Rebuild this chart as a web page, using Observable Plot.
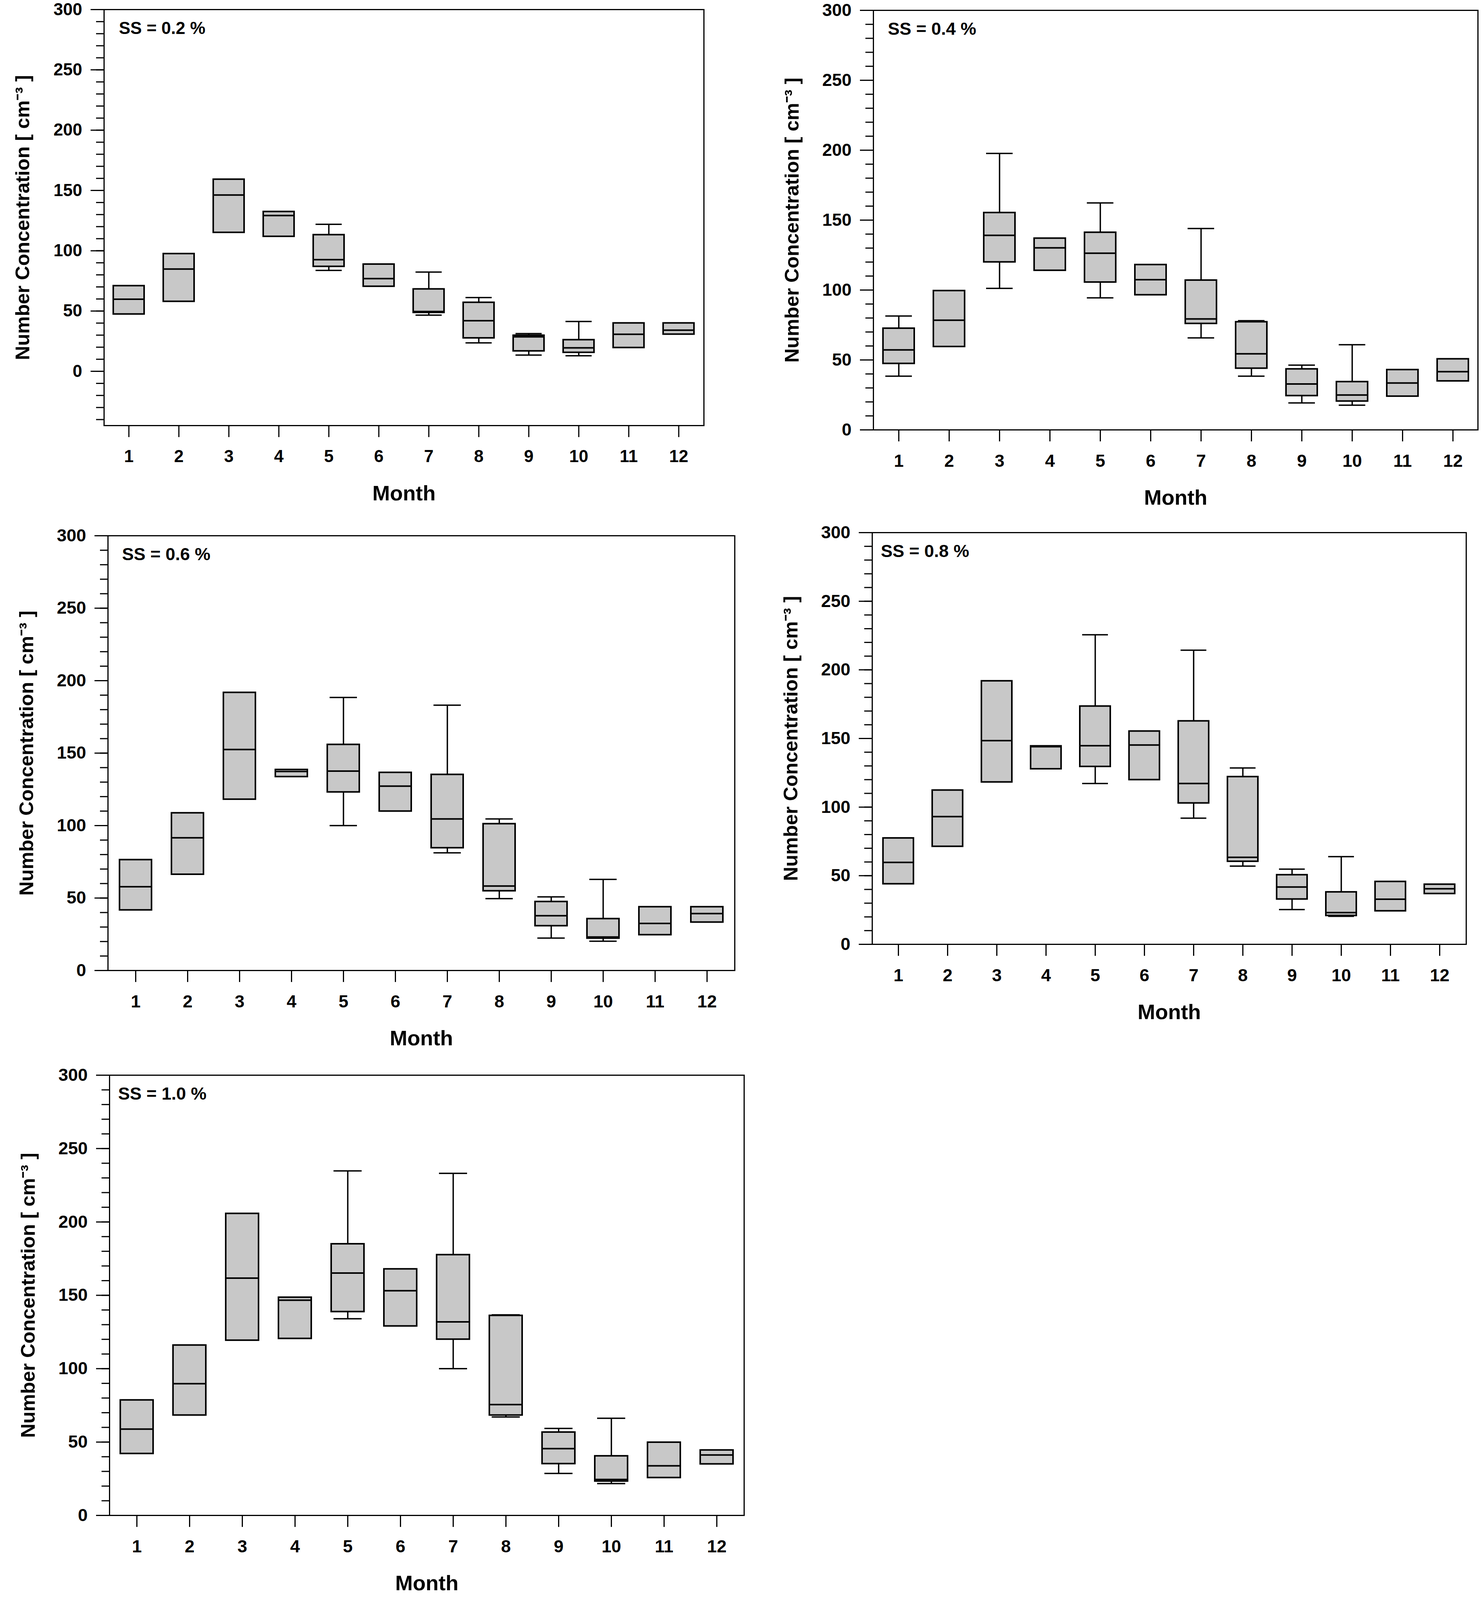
<!DOCTYPE html>
<html><head><meta charset="utf-8">
<script src="https://cdn.jsdelivr.net/npm/d3@7"></script>
<script src="https://cdn.jsdelivr.net/npm/@observablehq/plot@0.6"></script>
<style>
html,body{margin:0;padding:0;background:#fff;overflow:hidden;}
#wrap{position:relative;width:3800px;background:#fff;overflow:hidden;}
#wrap svg{position:absolute;max-width:none;overflow:visible;}
</style></head><body><div id="wrap"></div>
<script>
// ---------- data ----------
const months = [1,2,3,4,5,6,7,8,9,10,11,12];
const yMajorTicks = [0,50,100,150,200,250,300];

// SS = 0.2 %
const ss02_whiskerLow  = [null, null, null, null, 83.7, null, 46.6, 23.6, 13.5, 12.9, null, null];
const ss02_q1          = [47.4, 57.9, 115.1, 111.8, 86.9, 70.4, 48.7, 27.6, 16.8, 15.6, 19.6, 30.7];
const ss02_median      = [59.8, 84.8, 146.2, 129.2, 92.6, 76.9, 49.6, 42.0, 28.6, 19.5, 30.7, 34.1];
const ss02_q3          = [70.9, 97.5, 159.2, 132.4, 113.2, 88.8, 68.2, 57.1, 29.8, 26.1, 40.0, 40.0];
const ss02_whiskerHigh = [null, null, null, null, 121.9, null, 82.3, 61.2, 31.3, 41.3, null, null];

// SS = 0.4 %
const ss04_whiskerLow  = [38.4, null, 101.2, null, 94.4, null, 65.8, 38.4, 19.3, 17.7, null, null];
const ss04_q1          = [47.4, 59.5, 120.0, 114.0, 105.6, 96.5, 76.0, 44.0, 24.4, 20.5, 24.0, 34.9];
const ss04_median      = [57.2, 78.4, 139.1, 130.2, 126.3, 107.4, 79.3, 54.4, 32.8, 24.9, 33.5, 41.6];
const ss04_q3          = [72.6, 99.5, 155.3, 137.0, 141.2, 118.1, 107.0, 77.2, 43.5, 34.4, 43.0, 50.7];
const ss04_whiskerHigh = [81.4, null, 197.7, null, 162.3, null, 144.0, 78.1, 46.3, 60.9, null, null];

// SS = 0.6 %
const ss06_whiskerLow  = [null, null, null, null, 100.0, null, 81.2, 49.6, 22.4, 20.2, null, null];
const ss06_q1          = [41.7, 66.3, 118.1, 133.7, 123.1, 109.9, 84.6, 54.9, 30.8, 22.2, 24.6, 33.3];
const ss06_median      = [57.8, 91.6, 152.5, 137.3, 137.6, 127.2, 104.6, 58.3, 37.8, 23.1, 32.5, 39.3];
const ss06_q3          = [76.4, 108.7, 191.8, 138.6, 155.9, 136.6, 135.2, 101.2, 47.5, 35.7, 43.9, 43.9];
const ss06_whiskerHigh = [null, null, null, null, 188.4, null, 183.1, 104.6, 50.8, 62.9, null, null];

// SS = 0.8 %
const ss08_whiskerLow  = [null, null, null, null, 117.2, null, 91.9, 57.0, 25.3, 20.4, null, null];
const ss08_q1          = [44.0, 71.3, 118.2, 127.8, 129.5, 119.9, 102.9, 60.4, 32.9, 20.9, 24.3, 36.9];
const ss08_median      = [59.7, 93.1, 148.4, 144.0, 144.7, 145.2, 117.2, 63.4, 41.8, 23.1, 32.9, 40.5];
const ss08_q3          = [77.4, 112.3, 191.9, 144.5, 173.5, 155.3, 162.7, 122.1, 50.6, 38.1, 45.7, 43.7];
const ss08_whiskerHigh = [null, null, null, null, 225.6, null, 214.3, 128.5, 54.8, 63.9, null, null];

// SS = 1.0 %
const ss10_whiskerLow  = [null, null, null, null, 134.0, null, 100.0, 67.1, 28.6, 21.7, null, null];
const ss10_q1          = [42.1, 68.3, 119.3, 120.5, 138.8, 129.0, 120.0, 68.3, 35.2, 23.3, 25.7, 35.0];
const ss10_median      = [58.8, 89.8, 161.7, 146.7, 165.2, 153.1, 131.9, 75.5, 45.5, 24.5, 33.8, 41.2];
const ss10_q3          = [78.6, 116.0, 205.7, 148.6, 185.0, 167.9, 177.6, 136.2, 56.7, 40.5, 49.8, 44.5];
const ss10_whiskerHigh = [null, null, null, null, 234.8, null, 233.1, 136.7, 59.3, 66.2, null, null];

const titles = ["SS = 0.2 %", "SS = 0.4 %", "SS = 0.6 %", "SS = 0.8 %", "SS = 1.0 %"];
const yMins = [-45, 0, 0, 0, 0];
const xLabel = "Month";
const yLabel = "Number Concentration [ cm\u207B\u00B3 ]";

// ---------- layout (reference-page pixels of each plot frame) ----------
const PAGE_W = 3800, PAGE_H = 4379;
const frames = [
  {left: 266,  right: 1802, top: 26,   bottom: 1164, titleDx: 38},
  {left: 2236, right: 3784, top: 28,   bottom: 1176, titleDx: 37},
  {left: 276,  right: 1881, top: 1466, bottom: 2656, titleDx: 36},
  {left: 2233, right: 3754, top: 1457, bottom: 2584, titleDx: 22},
  {left: 280,  right: 1905, top: 2942, bottom: 4147, titleDx: 22}
];
// fit the page into the actual viewport height (vertical layout factor)
const ky = Math.min(1, (window.innerHeight || PAGE_H) / PAGE_H);

const series = [
  [ss02_whiskerLow, ss02_q1, ss02_median, ss02_q3, ss02_whiskerHigh],
  [ss04_whiskerLow, ss04_q1, ss04_median, ss04_q3, ss04_whiskerHigh],
  [ss06_whiskerLow, ss06_q1, ss06_median, ss06_q3, ss06_whiskerHigh],
  [ss08_whiskerLow, ss08_q1, ss08_median, ss08_q3, ss08_whiskerHigh],
  [ss10_whiskerLow, ss10_q1, ss10_median, ss10_q3, ss10_whiskerHigh]
];

const wrap = document.getElementById("wrap");
wrap.style.height = Math.floor(PAGE_H * ky) + "px";
const FONT = "'Liberation Sans', Arial, Helvetica, sans-serif";

series.forEach((s, k) => {
  const [lo, q1, med, q3, hi] = s;
  const rows = months.map((m, i) => ({month: m, lo: lo[i], q1: q1[i], med: med[i], q3: q3[i], hi: hi[i]}));
  const withHi = rows.filter(d => d.hi != null);
  const withLo = rows.filter(d => d.lo != null);
  const f = frames[k];
  const top = Math.round(f.top * ky), bottom = Math.round(f.bottom * ky);
  const ML = 250, MR = 30, MT = 26, MB = 235;
  const W = f.right - f.left + ML + MR;
  const H = bottom - top + MT + MB;
  const yMin = yMins[k];
  const minor = d3.range(Math.ceil(yMin / 10) * 10, 301, 10);
  const fs = k === 0 ? 44 : 45;

  const chart = Plot.plot({
    width: W, height: H,
    marginLeft: ML, marginRight: MR, marginTop: MT, marginBottom: MB,
    style: {fontFamily: FONT, fontWeight: "bold", fontSize: fs + "px", color: "black", background: "white"},
    x: {type: "band", domain: months, paddingInner: 0.38, paddingOuter: 0.19, label: null},
    y: {domain: [yMin, 300], label: null},
    marks: [
      Plot.ruleX(withHi, {x: "month", y1: "q3", y2: "hi", stroke: "black", strokeWidth: 3.5}),
      Plot.ruleX(withLo, {x: "month", y1: "lo", y2: "q1", stroke: "black", strokeWidth: 3.5}),
      Plot.tickY(withHi, {x: "month", y: "hi", stroke: "black", strokeWidth: 3.5, inset: 6}),
      Plot.tickY(withLo, {x: "month", y: "lo", stroke: "black", strokeWidth: 3.5, inset: 6}),
      Plot.barY(rows, {x: "month", y1: "q1", y2: "q3", fill: "#c8c8c8", stroke: "black", strokeWidth: 4}),
      Plot.tickY(rows, {x: "month", y: "med", stroke: "black", strokeWidth: 4}),
      Plot.axisY({ticks: minor, tickSize: 20, tickFormat: () => "", strokeWidth: 3, label: null}),
      Plot.axisY({ticks: yMajorTicks, tickSize: 34, tickPadding: 22, strokeWidth: 3, fontSize: fs, fontWeight: "bold", label: null}),
      Plot.axisX({tickSize: 32 * ky, tickPadding: 35 * ky, strokeWidth: 3, fontSize: fs, fontWeight: "bold", label: null}),
      Plot.frame({stroke: "black", strokeWidth: 3}),
      Plot.text([titles[k]], {text: d => d, frameAnchor: "top-left", dx: f.titleDx, dy: 67 * ky, lineAnchor: "bottom", textAnchor: "start", fontSize: fs, fontWeight: "bold"}),
      Plot.text([xLabel], {text: d => d, frameAnchor: "bottom", dy: 205 * ky, lineAnchor: "bottom", textAnchor: "middle", fontSize: 54, fontWeight: "bold"}),
      Plot.text([yLabel], {text: d => d, frameAnchor: "left", dx: -208, rotate: -90, textAnchor: "middle", lineAnchor: "middle", fontSize: Math.round(54 * ky * 10) / 10, fontWeight: "bold"})
    ]
  });
  chart.style.left = (f.left - ML) + "px";
  chart.style.top = (top - MT) + "px";
  wrap.appendChild(chart);
});
</script>
</body></html>
